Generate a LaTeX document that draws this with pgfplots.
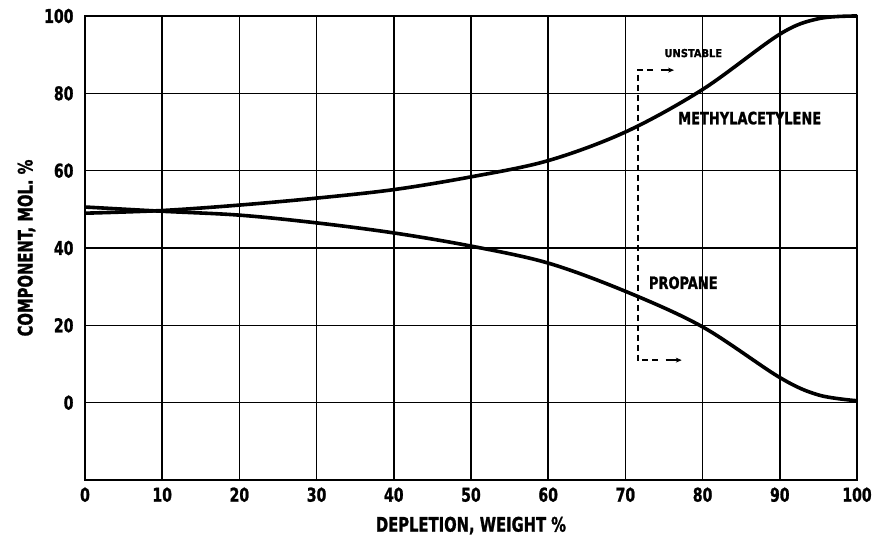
\documentclass[border=0pt]{standalone}
\usepackage{fontspec}
\setmainfont{DejaVu Sans Condensed}[BoldFont={DejaVu Sans Condensed Bold}]
\newfontfamily\lab{DejaVu Sans Condensed Bold}[FakeStretch=0.82, FakeBold=1.2]
\newfontfamily\labb{DejaVu Sans Condensed Bold}[FakeStretch=0.85, FakeBold=1.2]
\newfontfamily\labc{DejaVu Sans Condensed Bold}[FakeBold=1]
\usepackage{pgfplots}
\pgfplotsset{compat=1.18}
\usetikzlibrary{arrows.meta}
\begin{document}
\begin{tikzpicture}
\begin{axis}[
  scale only axis, width=772pt, height=464pt,
  xmin=0, xmax=100, ymin=-20, ymax=100,
  xtick={0,10,...,100}, ytick={0,20,...,100},
  major tick length=0pt,
  grid=major, major grid style={black, line width=1.6pt},
  axis line style={line width=2.2pt},
  /pgf/number format/assume math mode=true,
  ticklabel style={font=\fontsize{19}{19}\lab},
  xticklabel style={yshift=-4pt},
  yticklabel style={xshift=-8pt},
  xlabel={DEPLETION, WEIGHT \%}, ylabel={COMPONENT, MOL. \%},
  label style={font=\fontsize{20}{20}\lab},
  xlabel style={yshift=-8pt},
  ylabel style={yshift=2pt},
  clip=false,
]
\addplot[line width=3.6pt, smooth, tension=0.55] coordinates {
 (0,49) (10,49.7) (20,51.1) (30,52.9) (40,55.1) (50,58.4) (60,62.6) (70,70) (80,81) (90,95.3) (95,99.3) (100,100)};
\addplot[line width=3.6pt, smooth, tension=0.55] coordinates {
 (0,50.6) (10,49.5) (20,48.5) (30,46.5) (40,43.9) (50,40.5) (60,36.1) (70,28.8) (80,19.6) (90,6.5) (95,2) (100,0.5)};
\addplot[line width=1.6pt, dash pattern=on 6pt off 4pt] coordinates {(73.6,86) (71.6,86) (71.6,11) (74.3,11)};
\addplot[line width=1.8pt, -{Stealth[length=6pt,width=5pt]}] coordinates {(74.6,86) (76.3,86)};
\addplot[line width=1.8pt, -{Stealth[length=6pt,width=5pt]}] coordinates {(75.2,11) (77.3,11)};
\node[font=\fontsize{11}{11}\labc] at (axis cs:78.8,90.4) {UNSTABLE};
\node[font=\fontsize{17}{17}\labb] at (axis cs:86.1,73.6) {METHYLACETYLENE};
\node[font=\fontsize{17}{17}\labb] at (axis cs:77.5,31) {PROPANE};
\end{axis}
\pgfresetboundingbox
\path (0pt,0pt) ++(-85pt,-70pt) rectangle (788pt,480pt);
\end{tikzpicture}
\end{document}
